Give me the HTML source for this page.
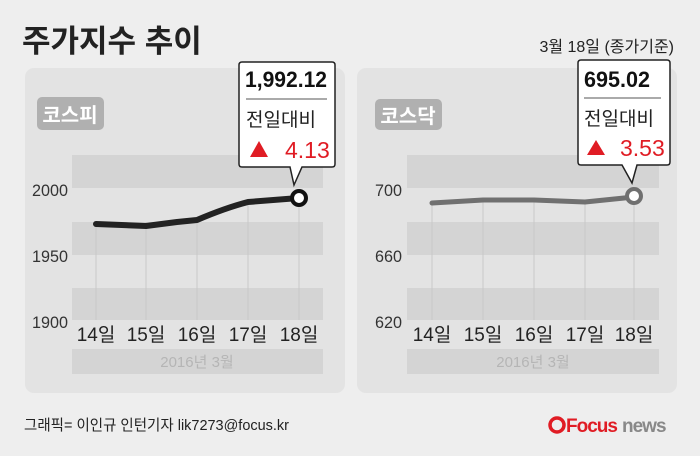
<!DOCTYPE html>
<html><head><meta charset="utf-8"><style>
body{margin:0;width:700px;height:451px;background:#eeeeee;overflow:hidden}
svg text{font-family:"Liberation Sans","Noto Sans CJK KR",sans-serif}
</style></head><body>
<svg width="700" height="451" viewBox="0 0 700 451">
<rect width="700" height="451" fill="#eeeeee"/>
<text x="22" y="52" font-size="31" font-weight="bold" fill="#222">주가지수 추이</text>
<text x="674" y="52" font-size="16" fill="#222" text-anchor="end">3월 18일 (종가기준)</text>

<!-- left panel -->
<rect x="25" y="68" width="320" height="325" rx="9" fill="#e3e3e3"/>
<rect x="72" y="155" width="251" height="33" fill="#d4d4d4"/>
<rect x="72" y="222" width="251" height="33" fill="#d4d4d4"/>
<rect x="72" y="288" width="251" height="32" fill="#d4d4d4"/>
<rect x="72" y="349" width="251" height="25" fill="#d4d4d4"/>
<g stroke="#c8c8c8" stroke-width="1">
<line x1="96" y1="222" x2="96" y2="320"/><line x1="146" y1="222" x2="146" y2="320"/><line x1="197" y1="222" x2="197" y2="320"/><line x1="248" y1="200" x2="248" y2="320"/><line x1="299" y1="200" x2="299" y2="320"/>
</g>
<rect x="37" y="97" width="67" height="33" rx="5" fill="#b0b0b0"/>
<text x="70" y="122" font-size="20" font-weight="bold" fill="#fff" text-anchor="middle">코스피</text>
<g font-size="17" fill="#333" text-anchor="end"><text x="68" y="196" textLength="36" lengthAdjust="spacingAndGlyphs">2000</text><text x="68" y="262" textLength="36" lengthAdjust="spacingAndGlyphs">1950</text><text x="68" y="328" textLength="36" lengthAdjust="spacingAndGlyphs">1900</text></g>
<g font-size="19" fill="#222" text-anchor="middle"><text x="96" y="341">14일</text><text x="146" y="341">15일</text><text x="197" y="341">16일</text><text x="248" y="341">17일</text><text x="299" y="341">18일</text></g>
<text x="197" y="367" font-size="15" fill="#b5b5b5" text-anchor="middle">2016년  3월</text>
<path d="M96 224 L146 226 L177 222 L197 220 Q225 208 248 202 L299 198" fill="none" stroke="#222" stroke-width="6" stroke-linecap="round" stroke-linejoin="round"/>
<circle cx="299" cy="198" r="7" fill="#fff" stroke="#111" stroke-width="4"/>
<path d="M242 62 H332 Q335 62 335 65 V164 Q335 167 332 167 H302 L294 185 L290 167 H242 Q239 167 239 164 V65 Q239 62 242 62Z" fill="#fff" stroke="#222" stroke-width="1.5"/>
<text x="245" y="87" font-size="22" font-weight="bold" fill="#111" textLength="82" lengthAdjust="spacingAndGlyphs">1,992.12</text>
<line x1="246" y1="99" x2="327" y2="99" stroke="#555" stroke-width="1"/>
<text x="246" y="126" font-size="19" fill="#222">전일대비</text>
<polygon points="250,157 259,141 268,157" fill="#e01c24"/>
<text x="285" y="158" font-size="23" fill="#e01c24">4.13</text>

<!-- right panel -->
<rect x="357" y="68" width="320" height="325" rx="9" fill="#e3e3e3"/>
<rect x="407" y="155" width="252" height="33" fill="#d4d4d4"/>
<rect x="407" y="222" width="252" height="33" fill="#d4d4d4"/>
<rect x="407" y="288" width="252" height="32" fill="#d4d4d4"/>
<rect x="407" y="349" width="252" height="25" fill="#d4d4d4"/>
<g stroke="#c8c8c8" stroke-width="1">
<line x1="432" y1="205" x2="432" y2="320"/><line x1="483" y1="202" x2="483" y2="320"/><line x1="534" y1="202" x2="534" y2="320"/><line x1="585" y1="204" x2="585" y2="320"/><line x1="634" y1="200" x2="634" y2="320"/>
</g>
<rect x="375" y="99" width="67" height="31" rx="5" fill="#b0b0b0"/>
<text x="408" y="123" font-size="20" font-weight="bold" fill="#fff" text-anchor="middle">코스닥</text>
<g font-size="17" fill="#333" text-anchor="end"><text x="402" y="196" textLength="27" lengthAdjust="spacingAndGlyphs">700</text><text x="402" y="262" textLength="27" lengthAdjust="spacingAndGlyphs">660</text><text x="402" y="328" textLength="27" lengthAdjust="spacingAndGlyphs">620</text></g>
<g font-size="19" fill="#222" text-anchor="middle"><text x="432" y="341">14일</text><text x="483" y="341">15일</text><text x="534" y="341">16일</text><text x="585" y="341">17일</text><text x="634" y="341">18일</text></g>
<text x="533" y="367" font-size="15" fill="#b5b5b5" text-anchor="middle">2016년  3월</text>
<path d="M432 203 L483 200 L534 200 L585 202 L634 197" fill="none" stroke="#707070" stroke-width="5" stroke-linecap="round" stroke-linejoin="round"/>
<circle cx="634" cy="196" r="7" fill="#fff" stroke="#707070" stroke-width="4"/>
<path d="M581 60 H667 Q670 60 670 63 V162 Q670 165 667 165 H637 L632 183 L622 165 H581 Q578 165 578 162 V63 Q578 60 581 60Z" fill="#fff" stroke="#222" stroke-width="1.5"/>
<text x="584" y="87" font-size="22" font-weight="bold" fill="#111" textLength="66" lengthAdjust="spacingAndGlyphs">695.02</text>
<line x1="584" y1="98" x2="661" y2="98" stroke="#555" stroke-width="1"/>
<text x="584" y="125" font-size="19" fill="#222">전일대비</text>
<polygon points="587,155 596,140 605,155" fill="#e01c24"/>
<text x="620" y="156" font-size="23" fill="#e01c24">3.53</text>

<!-- footer -->
<text x="24" y="430" font-size="15" fill="#222" textLength="265" lengthAdjust="spacingAndGlyphs">그래픽= 이인규 인턴기자 lik7273@focus.kr</text>
<circle cx="557" cy="425" r="7" fill="none" stroke="#e01c24" stroke-width="3.5"/>
<text x="566" y="432" font-size="19" font-weight="bold" fill="#e01c24" letter-spacing="-1">Focus</text>
<text x="622" y="432" font-size="19" font-weight="bold" fill="#888" letter-spacing="-1">news</text>
</svg>
</body></html>
